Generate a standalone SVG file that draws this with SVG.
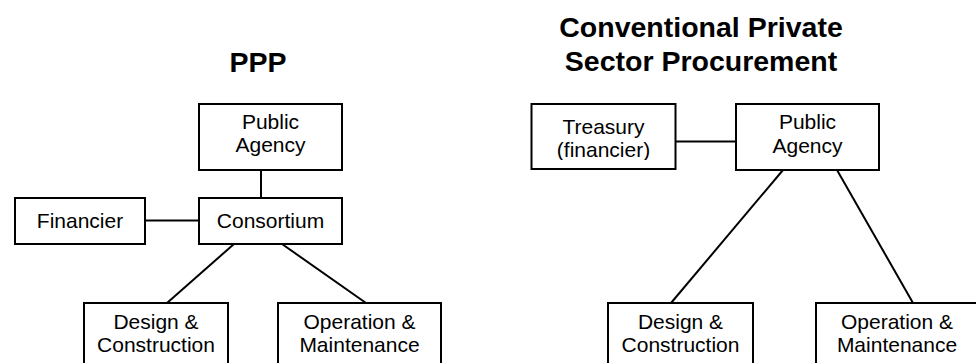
<svg xmlns="http://www.w3.org/2000/svg" width="976" height="363" viewBox="0 0 976 363">
  <style>
    .box { fill: #ffffff; stroke: #000000; stroke-width: 2; }
    .link { stroke: #000000; stroke-width: 2; fill: none; }
    .label { font-family: "Liberation Sans", Arial, sans-serif; font-size: 21px; fill: #000000; text-anchor: middle; }
    .title { font-family: "Liberation Sans", Arial, sans-serif; font-size: 28.5px; font-weight: bold; fill: #000000; text-anchor: middle; }
  </style>
  <defs>
    <clipPath id="treasuryClip">
      <rect x="532" y="104" width="143" height="56"/>
    </clipPath>
  </defs>
  <rect width="976" height="363" fill="#ffffff"/>

  <!-- Headings -->
  <text class="title" x="258" y="71.5">PPP</text>
  <text class="title" x="701" y="37">Conventional Private</text>
  <text class="title" x="701" y="71">Sector Procurement</text>

  <!-- Connectors -->
  <g id="connectors">
    <line class="link" x1="261" y1="170" x2="261" y2="198"/>
    <line class="link" x1="145" y1="220.5" x2="199" y2="220.5"/>
    <line class="link" x1="234" y1="244" x2="167" y2="303"/>
    <line class="link" x1="282" y1="244" x2="366" y2="303"/>
    <line class="link" x1="675" y1="141.5" x2="736" y2="141.5"/>
    <line class="link" x1="783" y1="170" x2="671" y2="303"/>
    <line class="link" x1="837" y1="170" x2="913" y2="303"/>
  </g>

  <!-- PPP structure -->
  <g id="ppp-public-agency">
    <rect class="box" x="199" y="104" width="143" height="66"/>
    <text class="label" x="270.5" y="128.5">Public</text>
    <text class="label" x="270.5" y="152">Agency</text>
  </g>
  <g id="ppp-consortium">
    <rect class="box" x="199" y="198" width="143" height="46"/>
    <text class="label" x="270.5" y="228">Consortium</text>
  </g>
  <g id="ppp-financier">
    <rect class="box" x="15" y="198" width="130" height="46"/>
    <text class="label" x="80" y="228">Financier</text>
  </g>
  <g id="ppp-design-construction">
    <rect class="box" x="84" y="303" width="144" height="80"/>
    <text class="label" x="156" y="328.5">Design &amp;</text>
    <text class="label" x="156" y="352">Construction</text>
  </g>
  <g id="ppp-operation-maintenance">
    <rect class="box" x="278" y="303" width="163" height="80"/>
    <text class="label" x="359.5" y="328.5">Operation &amp;</text>
    <text class="label" x="359.5" y="352">Maintenance</text>
  </g>

  <!-- Conventional procurement structure -->
  <g id="conv-treasury">
    <rect class="box" x="531.5" y="104" width="144" height="65"/>
    <text class="label" x="603.5" y="134">Treasury</text>
    <text class="label" x="603.5" y="157" clip-path="url(#treasuryClip)">(financier)</text>
  </g>
  <g id="conv-public-agency">
    <rect class="box" x="736" y="104" width="143" height="66"/>
    <text class="label" x="807.5" y="128.5">Public</text>
    <text class="label" x="807.5" y="153">Agency</text>
  </g>
  <g id="conv-design-construction">
    <rect class="box" x="608" y="303" width="145" height="80"/>
    <text class="label" x="680.5" y="328.5">Design &amp;</text>
    <text class="label" x="680.5" y="352">Construction</text>
  </g>
  <g id="conv-operation-maintenance">
    <rect class="box" x="816" y="303" width="163" height="80"/>
    <text class="label" x="897" y="328.5">Operation &amp;</text>
    <text class="label" x="897" y="352">Maintenance</text>
  </g>
</svg>
